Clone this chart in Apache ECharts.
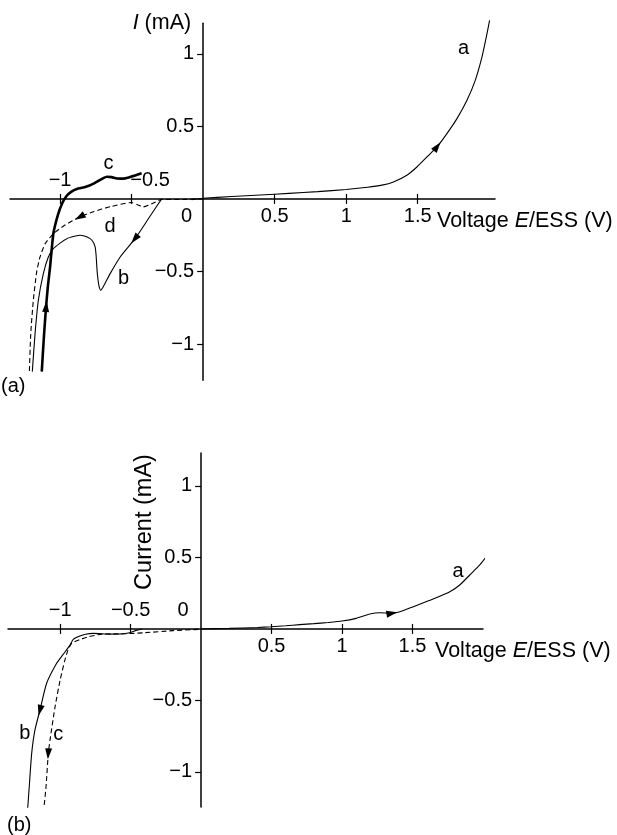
<!DOCTYPE html>
<html><head><meta charset="utf-8">
<script src="https://cdn.jsdelivr.net/npm/echarts@6.0.0/dist/echarts.min.js"></script>
<style>html,body{margin:0;padding:0;background:#fff}#c{width:617px;height:835px}</style>
</head><body><div id="c"></div>
<script>
const FONT = '"Liberation Sans", Arial, Helvetica, sans-serif';

// ---------- Panel (a) ----------
const aCurveA = [[-0.08,-0.005],[0,0.004],[0.2,0.016],[0.4,0.027],[0.6,0.038],[0.8,0.05],[1.0,0.065],[1.15,0.08],[1.25,0.095],[1.33,0.117],[1.424,0.163],[1.494,0.22],[1.564,0.289],[1.634,0.358],[1.704,0.45],[1.774,0.553],[1.844,0.68],[1.902,0.817],[1.949,0.978],[1.984,1.139],[2.002,1.23]];
const aCurveB = [[-0.29,0],[-0.383,-0.137],[-0.476,-0.274],[-0.58,-0.40],[-0.65,-0.515],[-0.69,-0.59],[-0.715,-0.63],[-0.728,-0.6],[-0.738,-0.53],[-0.743,-0.47],[-0.748,-0.39],[-0.755,-0.33],[-0.77,-0.295],[-0.79,-0.274],[-0.83,-0.256],[-0.86,-0.25],[-0.9,-0.258],[-0.953,-0.274],[-1.0,-0.305],[-1.047,-0.343],[-1.082,-0.40],[-1.117,-0.515],[-1.152,-0.70],[-1.175,-0.93],[-1.194,-1.19]];
const aCurveC = [[-1.128,-1.19],[-1.113,-0.95],[-1.098,-0.745],[-1.085,-0.6],[-1.07,-0.47],[-1.047,-0.24],[-1.015,-0.11],[-0.985,-0.03],[-0.955,0.02],[-0.92,0.05],[-0.883,0.068],[-0.83,0.08],[-0.78,0.098],[-0.73,0.125],[-0.7,0.142],[-0.673,0.153],[-0.64,0.15],[-0.603,0.141],[-0.56,0.14],[-0.52,0.148],[-0.48,0.16],[-0.43,0.176]];
const aCurveD = [[0,0],[-0.15,-0.004],[-0.29,-0.004],[-0.35,-0.03],[-0.42,-0.055],[-0.46,-0.04],[-0.5,-0.025],[-0.65,-0.054],[-0.767,-0.088],[-0.86,-0.123],[-0.965,-0.18],[-1.047,-0.24],[-1.105,-0.31],[-1.14,-0.40],[-1.163,-0.5],[-1.187,-0.70],[-1.205,-0.93],[-1.215,-1.20]];
const aLabels = [['a',1.82,1.036],['b',-0.557,-0.55],['c',-0.662,0.243],['d',-0.65,-0.19]];
const aArrows = [['a',13],['b',2],['c',2],['d',9]];

// ---------- Panel (b) ----------
const bCurveA = [[0,0],[0.2,0.004],[0.4,0.01],[0.497,0.015],[0.6,0.022],[0.7,0.03],[0.8,0.037],[0.9,0.045],[1.0,0.055],[1.1,0.074],[1.197,0.104],[1.268,0.113],[1.35,0.109],[1.41,0.12],[1.504,0.155],[1.646,0.209],[1.765,0.26],[1.835,0.307],[1.906,0.377],[1.977,0.447],[2.02,0.5]];
const bCurveB = [[-0.42,0],[-0.46,-0.01],[-0.5,-0.025],[-0.55,-0.034],[-0.647,-0.036],[-0.765,-0.031],[-0.82,-0.037],[-0.86,-0.05],[-0.907,-0.073],[-0.93,-0.113],[-0.98,-0.18],[-1.025,-0.24],[-1.096,-0.38],[-1.143,-0.567],[-1.179,-0.707],[-1.202,-0.87],[-1.219,-1.10],[-1.23,-1.25]];
const bCurveC = [[-0.02,-0.003],[-0.2,-0.012],[-0.41,-0.027],[-0.55,-0.034],[-0.7,-0.036],[-0.8,-0.055],[-0.86,-0.075],[-0.918,-0.10],[-0.945,-0.15],[-0.966,-0.217],[-1.0,-0.357],[-1.036,-0.544],[-1.072,-0.777],[-1.084,-0.87],[-1.10,-1.10],[-1.115,-1.25]];
const bLabels = [['a',1.823,0.40],['b',-1.25,-0.73],['c',-1.013,-0.74]];
const bArrows = [['a',12],['b',13],['c',13]];

// ---------- Ticks ----------
const xTickValues = [-1, -0.5, 0.5, 1, 1.5];
const yTickValues = [-1, -0.5, 0.5, 1];
const aXLabelsBelow = [0, 0.5, 1, 1.5];
const aXLabelsAbove = [-1, -0.5];
const bXLabelsBelow = [0.5, 1, 1.5];
const bXLabelsAbove = [-1, -0.5, 0];

// axis ranges
const aXRange = [-1.35, 2.04], aYRange = [-1.25, 1.21];
const bXRange = [-1.37, 2.0],  bYRange = [-1.245, 1.23];

const fmt = v => (v < 0 ? '\u2212' + String(-v) : String(v));
const TS = {color:'#000', fontFamily:FONT, fontSize:20};
const LS = {color:'#000', width:1.5};
const GRIDS = [
  {left:10, top:23.3, width:485, height:357},
  {left:8, top:453, width:475, height:354}
];
// distance (px) from the grid edge to the zero line, so axes cross at the origin
const zeroFromBottom = (g, yr) => (0 - yr[0]) / (yr[1] - yr[0]) * GRIDS[g].height;
const zeroFromTop = (g, yr) => (yr[1] - 0) / (yr[1] - yr[0]) * GRIDS[g].height;
const zeroFromLeft = (g, xr) => (0 - xr[0]) / (xr[1] - xr[0]) * GRIDS[g].width;

function xBottom(g, xr, yr, labels, gap, zeroShift){
  return {type:'value', gridIndex:g, position:'bottom', min:xr[0], max:xr[1],
    offset:-zeroFromBottom(g, yr),
    axisLine:{show:true, onZero:false, lineStyle:LS},
    axisTick:{show:true, customValues:xTickValues, length:5, lineStyle:{color:'#000',width:1.2}},
    axisLabel:Object.assign({show:true, customValues:labels, margin:8,
      formatter:v => (v === 0 ? '{z|0}' : fmt(v)),
      rich:{z:Object.assign({padding:[0,zeroShift,0,0]}, TS)}}, TS),
    splitLine:{show:false},
    name:'Voltage {i|E}/ESS (V)', nameLocation:'end', nameGap:gap, nameMoveOverlap:false,
    nameTextStyle:Object.assign({align:'left', verticalAlign:'top', padding:[11,0,0,0],
      rich:{i:Object.assign({}, TS, {fontStyle:'italic', fontSize:21.5})}}, TS, {fontSize:21.5})
  };
}
function xTop(g, xr, yr, labels, shifts){
  return {type:'value', gridIndex:g, position:'top', min:xr[0], max:xr[1],
    offset:-zeroFromTop(g, yr),
    axisLine:{show:false, onZero:false},
    axisTick:{show:true, customValues:xTickValues, length:5, lineStyle:{color:'#000',width:1.2}},
    axisLabel:Object.assign({show:true, customValues:labels, margin:8,
      formatter:v => (v === 0 ? '{z|0}' : (v === -0.5 ? '{h|' + fmt(v) + '}' : fmt(v))),
      rich:{z:Object.assign({padding:[0,shifts.zero,0,0]}, TS), h:Object.assign({padding:[0,0,0,shifts.half]}, TS)}}, TS),
    splitLine:{show:false}
  };
}
function yAx(g, xr, yr, nameCfg){
  return Object.assign({type:'value', gridIndex:g, position:'left', min:yr[0], max:yr[1],
    offset:-zeroFromLeft(g, xr),
    axisLine:{show:true, onZero:false, lineStyle:LS},
    axisTick:{show:true, customValues:yTickValues, length:6, lineStyle:{color:'#000',width:1.2}},
    axisLabel:Object.assign({show:true, customValues:yTickValues, margin:9, formatter:fmt}, TS),
    splitLine:{show:false}, nameMoveOverlap:false}, nameCfg);
}

function lineSeries(data, xi, yi, width, dashed){
  return {type:'line', data, xAxisIndex:xi, yAxisIndex:yi, symbol:'none', smooth:0.2, clip:false,
    silent:true, lineStyle:{color:'#000', width, type: dashed ? [5,3] : 'solid'}};
}
function labelSeries(list, xi, yi){
  return {type:'scatter', xAxisIndex:xi, yAxisIndex:yi, symbolSize:1, silent:true, clip:false,
    itemStyle:{color:'rgba(0,0,0,0)'},
    data:list.map(l => ({name:l[0], value:[l[1], l[2]]})),
    label:Object.assign({show:true, position:'inside', formatter:'{b}', opacity:1,
      textBorderWidth:0, textShadowBlur:0}, TS)};
}
function arrowSeries(specs, curves, xi, yi){
  return {type:'custom', xAxisIndex:xi, yAxisIndex:yi, silent:true, clip:false,
    encode:{x:[0,2], y:[1,3]},
    data:specs.map(s => { const c = curves[s[0]]; return [c[s[1]][0], c[s[1]][1], c[s[1]+1][0], c[s[1]+1][1]]; }),
    renderItem:(params, api) => {
      const p1 = api.coord([api.value(0), api.value(1)]);
      const p2 = api.coord([api.value(2), api.value(3)]);
      let dx = p2[0]-p1[0], dy = p2[1]-p1[1]; const L = Math.hypot(dx,dy) || 1; dx/=L; dy/=L;
      const tip = [p1[0]+dx*6, p1[1]+dy*6], b = [p1[0]-dx*5, p1[1]-dy*5];
      return {type:'polygon', shape:{points:[tip,[b[0]-dy*3.5,b[1]+dx*3.5],[b[0]+dy*3.5,b[1]-dx*3.5]]}, style:{fill:'#000'}};
    }};
}

const chart = echarts.init(document.getElementById('c'), null, {renderer:'canvas'});
chart.setOption({
  animation:false,
  backgroundColor:'#fff',
  title:[
    {text:'(a)', left:1, top:376, padding:0, textStyle:Object.assign({fontWeight:'normal'}, TS)},
    {text:'(b)', left:7, top:815, padding:0, textStyle:Object.assign({fontWeight:'normal'}, TS)}
  ],
  grid:GRIDS.map(g => Object.assign({outerBoundsMode:'none'}, g)),
  xAxis:[
    xBottom(0, aXRange, aYRange, aXLabelsBelow, -58, 33),
    xTop(0, aXRange, aYRange, aXLabelsAbove, {zero:0, half:37}),
    xBottom(1, bXRange, bYRange, bXLabelsBelow, -48, 0),
    xTop(1, bXRange, bYRange, bXLabelsAbove, {zero:36, half:0})
  ],
  yAxis:[
    yAx(0, aXRange, aYRange, {name:'{i|I} (mA)', nameLocation:'end', nameGap:0,
      nameTextStyle:Object.assign({align:'right', verticalAlign:'middle', padding:[0,12,0,0],
        rich:{i:Object.assign({}, TS, {fontStyle:'italic', fontSize:21.5})}}, TS, {fontSize:21.5})}),
    yAx(1, bXRange, bYRange, {name:'Current (mA)', nameLocation:'end', nameGap:-69, nameRotate:90,
      nameTextStyle:Object.assign({align:'center', verticalAlign:'bottom', lineHeight:114}, TS, {fontSize:23.5})})
  ],
  series:[
    lineSeries(aCurveA, 0, 0, 1.1, false),
    lineSeries(aCurveB, 0, 0, 1.1, false),
    lineSeries(aCurveC, 0, 0, 2.6, false),
    lineSeries(aCurveD, 0, 0, 1.1, true),
    labelSeries(aLabels, 0, 0),
    arrowSeries(aArrows, {a:aCurveA, b:aCurveB, c:aCurveC, d:aCurveD}, 0, 0),
    lineSeries(bCurveA, 2, 1, 1.1, false),
    lineSeries(bCurveB, 2, 1, 1.1, false),
    lineSeries(bCurveC, 2, 1, 1.1, true),
    labelSeries(bLabels, 2, 1),
    arrowSeries(bArrows, {a:bCurveA, b:bCurveB, c:bCurveC}, 2, 1)
  ]
});
</script>
</body></html>
